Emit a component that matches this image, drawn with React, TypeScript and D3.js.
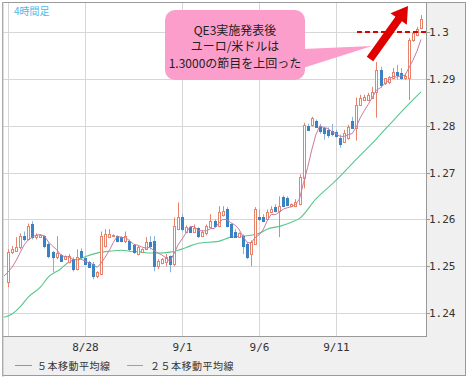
import React from 'react';
import * as d3 from 'd3';

// ---- data (EUR/USD 4-hour candles) ----
const opens = [
  1.2466, 1.2530, 1.2532, 1.2540, 1.2564, 1.2557, 1.2589, 1.2562, 1.2562, 1.2564,
  1.2547, 1.2530, 1.2519, 1.2523, 1.2515, 1.2509, 1.2515, 1.2494, 1.2532, 1.2517,
  1.2509, 1.2504, 1.2479, 1.2483, 1.2543, 1.2562, 1.2564, 1.2564, 1.2562, 1.2553,
  1.2553, 1.2545, 1.2526, 1.2530, 1.2536, 1.2551, 1.2553, 1.2500, 1.2506, 1.2509,
  1.2521, 1.2504, 1.2579, 1.2606, 1.2574, 1.2583, 1.2574, 1.2581, 1.2564, 1.2570,
  1.2583, 1.2596, 1.2585, 1.2609, 1.2621, 1.2589, 1.2574, 1.2562, 1.2564, 1.2547,
  1.2526, 1.2547, 1.2606, 1.2604, 1.2600, 1.2615, 1.2626, 1.2617, 1.2647, 1.2645,
  1.2628, 1.2628, 1.2632, 1.2689, 1.2800, 1.2802, 1.2809, 1.2800, 1.2794, 1.2791,
  1.2789, 1.2787, 1.2774, 1.2766, 1.2774, 1.2809, 1.2796, 1.2845, 1.2855, 1.2855,
  1.2860, 1.2872, 1.2919, 1.2891, 1.2894, 1.2902, 1.2915, 1.2913, 1.2902, 1.2902,
  1.2983, 1.2994, 1.3009,
];
const highs = [
  1.2536, 1.2543, 1.2562, 1.2570, 1.2574, 1.2591, 1.2596, 1.2570, 1.2568, 1.2566,
  1.2551, 1.2532, 1.2564, 1.2526, 1.2523, 1.2526, 1.2519, 1.2536, 1.2538, 1.2521,
  1.2511, 1.2509, 1.2489, 1.2574, 1.2579, 1.2579, 1.2568, 1.2566, 1.2564, 1.2574,
  1.2557, 1.2547, 1.2543, 1.2538, 1.2562, 1.2564, 1.2564, 1.2515, 1.2517, 1.2526,
  1.2523, 1.2604, 1.2636, 1.2611, 1.2587, 1.2585, 1.2589, 1.2583, 1.2577, 1.2589,
  1.2611, 1.2600, 1.2628, 1.2628, 1.2626, 1.2591, 1.2579, 1.2572, 1.2568, 1.2551,
  1.2555, 1.2626, 1.2621, 1.2611, 1.2621, 1.2628, 1.2632, 1.2649, 1.2651, 1.2649,
  1.2634, 1.2643, 1.2696, 1.2806, 1.2804, 1.2819, 1.2813, 1.2804, 1.2798, 1.2796,
  1.2804, 1.2791, 1.2781, 1.2791, 1.2802, 1.2819, 1.2860, 1.2866, 1.2866, 1.2870,
  1.2883, 1.2936, 1.2926, 1.2898, 1.2906, 1.2923, 1.2930, 1.2923, 1.2911, 1.2987,
  1.3002, 1.3011, 1.3036,
];
const lows = [
  1.2455, 1.2526, 1.2530, 1.2536, 1.2553, 1.2555, 1.2557, 1.2557, 1.2560, 1.2538,
  1.2517, 1.2487, 1.2515, 1.2509, 1.2513, 1.2506, 1.2489, 1.2491, 1.2515, 1.2502,
  1.2496, 1.2472, 1.2474, 1.2481, 1.2540, 1.2560, 1.2562, 1.2551, 1.2551, 1.2549,
  1.2530, 1.2526, 1.2523, 1.2528, 1.2534, 1.2536, 1.2489, 1.2494, 1.2504, 1.2500,
  1.2487, 1.2500, 1.2577, 1.2574, 1.2572, 1.2572, 1.2572, 1.2560, 1.2562, 1.2566,
  1.2581, 1.2583, 1.2583, 1.2606, 1.2583, 1.2560, 1.2560, 1.2560, 1.2526, 1.2515,
  1.2500, 1.2545, 1.2596, 1.2594, 1.2598, 1.2613, 1.2615, 1.2562, 1.2626, 1.2628,
  1.2626, 1.2626, 1.2630, 1.2666, 1.2789, 1.2798, 1.2796, 1.2783, 1.2770, 1.2774,
  1.2777, 1.2774, 1.2753, 1.2764, 1.2770, 1.2794, 1.2768, 1.2843, 1.2853, 1.2853,
  1.2857, 1.2817, 1.2881, 1.2887, 1.2889, 1.2900, 1.2898, 1.2898, 1.2898, 1.2855,
  1.2979, 1.2991, 1.3006,
];
const closes = [
  1.2530, 1.2536, 1.2540, 1.2564, 1.2557, 1.2585, 1.2562, 1.2566, 1.2566, 1.2543,
  1.2521, 1.2519, 1.2528, 1.2511, 1.2521, 1.2521, 1.2494, 1.2519, 1.2519, 1.2504,
  1.2498, 1.2479, 1.2487, 1.2564, 1.2568, 1.2568, 1.2566, 1.2553, 1.2553, 1.2564,
  1.2536, 1.2530, 1.2540, 1.2536, 1.2551, 1.2543, 1.2500, 1.2511, 1.2515, 1.2519,
  1.2504, 1.2585, 1.2604, 1.2579, 1.2583, 1.2574, 1.2581, 1.2564, 1.2574, 1.2585,
  1.2596, 1.2585, 1.2615, 1.2617, 1.2585, 1.2562, 1.2562, 1.2570, 1.2543, 1.2519,
  1.2551, 1.2621, 1.2600, 1.2596, 1.2615, 1.2621, 1.2617, 1.2628, 1.2628, 1.2630,
  1.2632, 1.2638, 1.2691, 1.2802, 1.2791, 1.2817, 1.2798, 1.2789, 1.2785, 1.2781,
  1.2783, 1.2777, 1.2760, 1.2785, 1.2798, 1.2796, 1.2845, 1.2860, 1.2862, 1.2866,
  1.2872, 1.2919, 1.2887, 1.2902, 1.2904, 1.2915, 1.2909, 1.2902, 1.2906, 1.2983,
  1.2998, 1.3006, 1.3028,
];
// closes before the first visible bar (used only for the 5-bar average)
const priorCloses = [1.2490, 1.2482, 1.2470, 1.2478, 1.2475];

// 25-bar moving average (bar index -> value)
const ma25Idx = [-1, 1, 3, 5, 8, 10, 13, 15, 18, 20, 23, 25, 28, 30, 33, 35, 37, 40, 42, 44,
  47, 52, 55, 60, 62, 64, 67, 70, 72, 76, 81, 86, 91, 96, 100, 102];
const ma25Val = [1.2391, 1.2398, 1.2413, 1.2434, 1.2455, 1.2477, 1.2494, 1.2509, 1.2517, 1.2523,
  1.2530, 1.2532, 1.2534, 1.2532, 1.2530, 1.2528, 1.2528, 1.2530, 1.2534, 1.2540,
  1.2549, 1.2553, 1.2562, 1.2566, 1.2570, 1.2579, 1.2585, 1.2594, 1.2602, 1.2643,
  1.2683, 1.2728, 1.2772, 1.2819, 1.2855, 1.2872];

const gridIdx = [0, 19, 43, 62, 81];
const dateIdx = [19, 43, 62, 81];
const dateLabels = ['8/28', '9/1', '9/6', '9/11'];
const yTicks = [1.24, 1.25, 1.26, 1.27, 1.28, 1.29, 1.3];

const legendLabels = ['５本移動平均線', '２５本移動平均線'];
const calloutLines = ['QE3実施発表後', 'ユーロ/米ドルは', '1.3000の節目を上回った'];

const UP = '#e8836b';
const DOWN = '#3b82c4';
const DOWN_WICK = '#86b3dd';
const MA5_COLOR = '#c97aa0';
const MA25_COLOR = '#56c98c';
const GRID = '#d6d6d6';
const MONO = '"DejaVu Sans Mono", monospace';
const JP = '"Noto Sans CJK JP", "Noto Sans", sans-serif';

export default function App() {
  const W = 470, H = 380;
  const plot = { l: 3, r: 426, t: 3, b: 336 };
  const x = d3.scaleLinear().domain([0, 102]).range([8, 421]);
  const y = d3.scaleLinear().domain([1.24, 1.3]).range([313, 32]);

  const all = [...priorCloses, ...closes];
  const ma5 = d3.range(-1, closes.length).map((i) => {
    const k = i + priorCloses.length;
    return { i, v: d3.mean(all.slice(k - 4, k + 1)) as number };
  });
  const ma25 = ma25Idx.map((i, k) => ({ i, v: ma25Val[k] }));

  const line5 = d3.line<{ i: number; v: number }>().x((d) => x(d.i)).y((d) => y(d.v));
  const line25 = d3
    .line<{ i: number; v: number }>()
    .x((d) => x(d.i))
    .y((d) => y(d.v))
    .curve(d3.curveMonotoneX);

  // arrow geometry
  const T = [370, 59], P = [408, 6];
  const len = Math.hypot(P[0] - T[0], P[1] - T[1]);
  const u = [(P[0] - T[0]) / len, (P[1] - T[1]) / len];
  const nn = [-u[1], u[0]];
  const headL = 16, headW = 10, shaftW = 4;
  const B = [P[0] - headL * u[0], P[1] - headL * u[1]];
  const pt = (p: number[], s: number) => `${p[0] + s * nn[0]},${p[1] + s * nn[1]}`;
  const arrowPts = [pt(T, shaftW), pt(B, shaftW), pt(B, headW), `${P[0]},${P[1]}`, pt(B, -headW), pt(B, -shaftW), pt(T, -shaftW)].join(' ');

  return (
    <div style={{ position: 'absolute', left: 0, top: 0 }}>
      <svg width={W} height={H} style={{ display: 'block' }}>
        <defs>
          <clipPath id="plotClip">
            <rect x={plot.l} y={plot.t} width={plot.r - plot.l} height={plot.b - plot.t} />
          </clipPath>
        </defs>
        <rect x={0} y={0} width={W} height={H} fill="#fff" />
        <rect x={2} y={2} width={464} height={374} fill="#f0f0f0" />
        <rect x={plot.l} y={plot.t} width={plot.r - plot.l} height={plot.b - plot.t} fill="#fff" />

        {/* grid */}
        {yTicks.map((t) => (
          <line key={'h' + t} x1={plot.l} x2={plot.r} y1={Math.round(y(t)) + 0.5} y2={Math.round(y(t)) + 0.5} stroke={GRID} />
        ))}
        {gridIdx.map((i) => (
          <line key={'v' + i} x1={Math.round(x(i)) + 0.5} x2={Math.round(x(i)) + 0.5} y1={plot.t} y2={plot.b} stroke={GRID} />
        ))}

        <g clipPath="url(#plotClip)">
          <path d={line25(ma25) || ''} fill="none" stroke={MA25_COLOR} strokeWidth={1.1} />
          {closes.map((c, i) => {
            const o = opens[i], h = highs[i], l = lows[i];
            const up = c >= o;
            const cx = Math.round(x(i));
            const top = Math.round(y(Math.max(o, c)));
            const bot = Math.round(y(Math.min(o, c)));
            const hgt = Math.max(bot - top, 1);
            return (
              <g key={i}>
                <line x1={cx + 0.5} x2={cx + 0.5} y1={y(h)} y2={y(l)} stroke={up ? UP : DOWN_WICK} strokeWidth={1} />
                {up ? (
                  <rect x={cx - 0.5} y={top + 0.5} width={2} height={hgt} fill="#fff" stroke={UP} strokeWidth={1} />
                ) : (
                  <rect x={cx - 1} y={top} width={3} height={hgt + 1} fill={DOWN} />
                )}
              </g>
            );
          })}
          <path d={line5(ma5) || ''} fill="none" stroke={MA5_COLOR} strokeWidth={1} />
        </g>

        {/* plot borders */}
        <line x1={plot.r + 0.5} x2={plot.r + 0.5} y1={plot.t} y2={plot.b + 1} stroke="#999" />
        <line x1={plot.l} x2={plot.r + 1} y1={plot.b + 0.5} y2={plot.b + 0.5} stroke="#999" />
        <rect x={2.5} y={2.5} width={463} height={373} fill="none" stroke="#9a9a9a" strokeWidth={1} />
        <line x1={2.5} x2={2.5} y1={2} y2={377} stroke="#bbb" strokeWidth={1} transform="translate(0.5,0)" />

        {/* y axis labels */}
        {yTicks.map((t) => (
          <g key={'yl' + t}>
            <line x1={plot.r + 1} x2={plot.r + 4} y1={Math.round(y(t)) + 0.5} y2={Math.round(y(t)) + 0.5} stroke="#999" />
            <text x={plot.r + 3} y={y(t) + 4} fontFamily={MONO} fontSize={11} fill="#333">
              {String(+t.toFixed(2))}
            </text>
          </g>
        ))}

        {/* x axis labels */}
        {dateIdx.map((i, k) => (
          <text key={'xl' + i} x={Math.round(x(i)) + 0.5} y={351} textAnchor="middle" fontFamily={MONO} fontSize={11} fill="#333">
            {dateLabels[k]}
          </text>
        ))}

        {/* legend */}
        <line x1={15} x2={32} y1={365.5} y2={365.5} stroke={MA5_COLOR} />
        <text x={37} y={369.5} fontFamily={JP} fontSize={10} letterSpacing={0.5} fill="#333">{legendLabels[0]}</text>
        <line x1={127} x2={143} y1={365.5} y2={365.5} stroke={MA25_COLOR} />
        <text x={150} y={369.5} fontFamily={JP} fontSize={10} letterSpacing={0.5} fill="#333">{legendLabels[1]}</text>

        {/* title */}
        <text x={14} y={15} fontFamily={JP} fontSize={10} fill="#4db8ea">4時間足</text>

        {/* annotation: 1.30 level, arrow, callout */}
        <line x1={x(86.2)} x2={plot.r} y1={y(1.3)} y2={y(1.3)} stroke="#e00000" strokeWidth={2} strokeDasharray="5,3" />
        <polygon points={arrowPts} fill="#e00000" />
        <polygon points="303,49 372,46 303,68" fill="#fc9ecc" />
        <rect x={165} y={10} width={140} height={70} rx={10} ry={10} fill="#fc9ecc" />
        {calloutLines.map((s, k) => (
          <text key={'c' + k} x={235} y={34.5 + k * 16.5} textAnchor="middle" fontFamily={JP} fontSize={12} fill="#222">
            {s}
          </text>
        ))}
      </svg>
    </div>
  );
}
